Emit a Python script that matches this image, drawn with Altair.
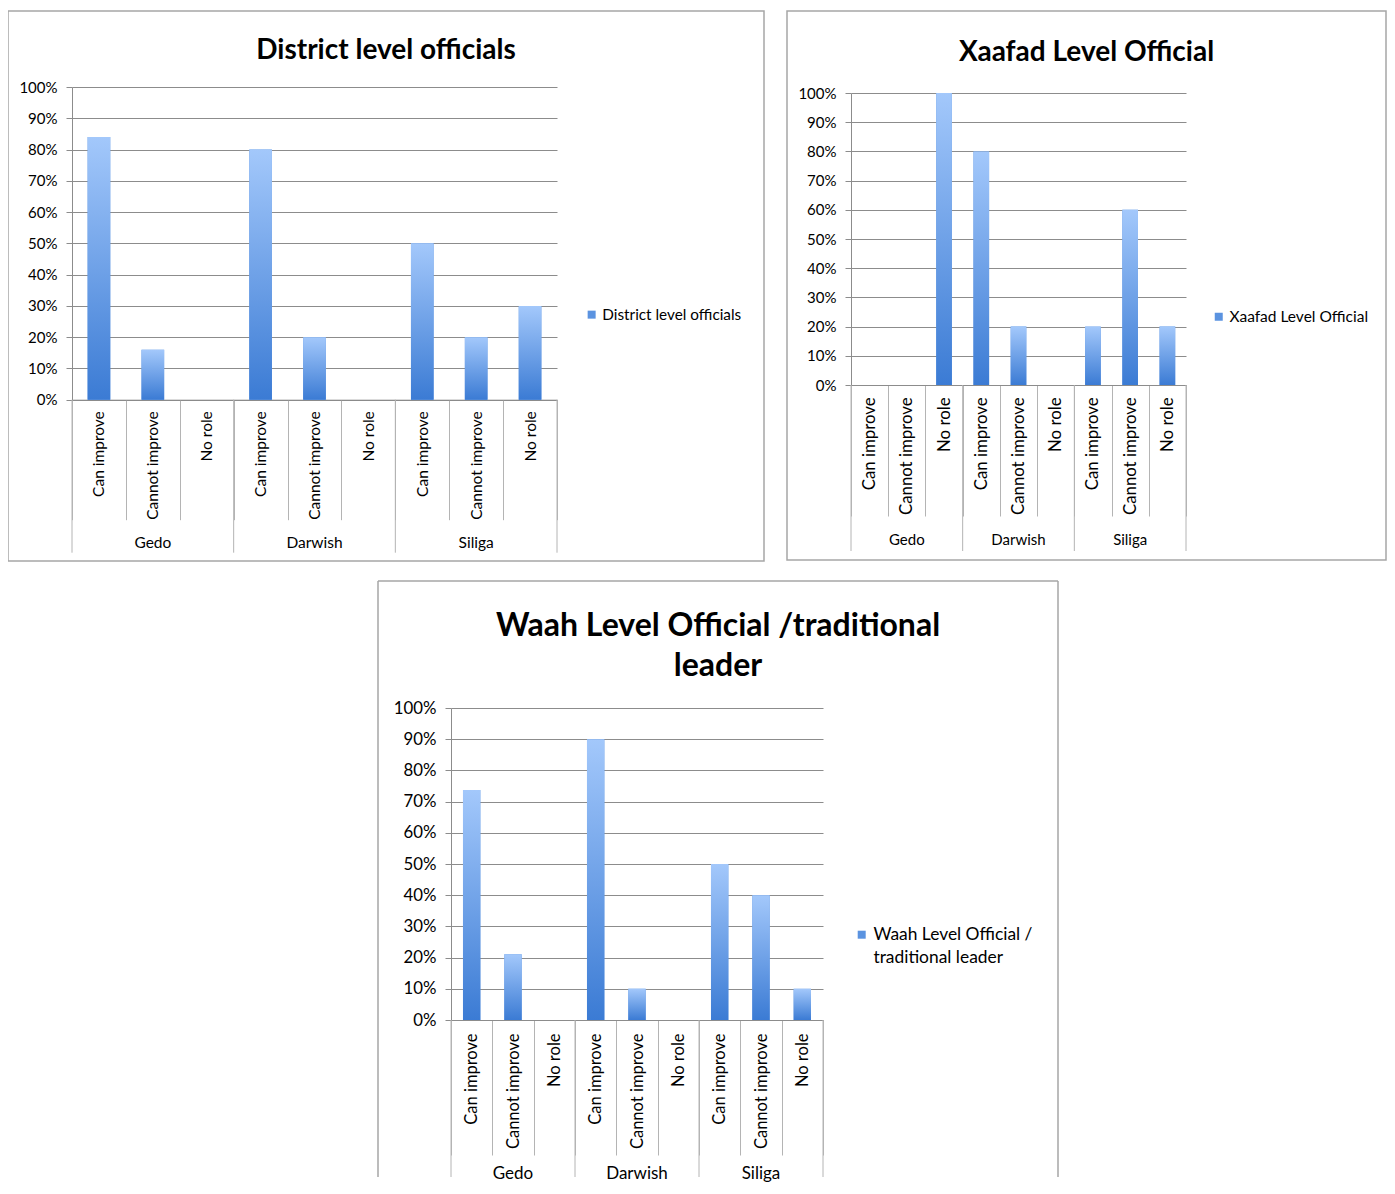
import altair as alt
import pandas as pd

groups = ["Gedo", "Darwish", "Siliga"]
responses = ["Can improve", "Cannot improve", "No role"]

district_values = [0.84, 0.16, 0.0, 0.80, 0.20, 0.0, 0.50, 0.20, 0.30]
xaafad_values = [0.0, 0.0, 1.0, 0.80, 0.20, 0.0, 0.20, 0.60, 0.20]
waah_values = [0.737, 0.211, 0.0, 0.90, 0.10, 0.0, 0.50, 0.40, 0.10]

y_ticks = [0, 0.1, 0.2, 0.3, 0.4, 0.5, 0.6, 0.7, 0.8, 0.9, 1.0]

FONT = "Lato"
GRID = "#8c8c8c"
SEP = "#b4b4b4"
BOX = "#a6a6a6"

gradient = alt.Gradient(
    gradient="linear",
    stops=[alt.GradientStop(color="#a3c8fb", offset=0),
           alt.GradientStop(color="#3b7bd4", offset=1)],
    x1=0, x2=0, y1=0, y2=1,
)


def panel(series, values, title_lines, W, H, x0, x1, y0, y1, tick_len, label_gap,
          grp_len, grp_y, leg_x, leg_y, title_size, title_offset, ylab_size,
          xlab_size, grp_size, leg_size, leg_expr=None, title_line_height=None,
          boxed=True):
    keys = [f"{g}|{r}" for g in groups for r in responses]
    df = pd.DataFrame({
        "key": keys,
        "group": [g for g in groups for r in responses],
        "response": [r for g in groups for r in responses],
        "value": values,
        "series": series,
    })
    xscale = alt.Scale(domain=keys, range=[x0, x1], paddingInner=0, paddingOuter=0)
    yscale = alt.Scale(domain=[0, 1], range=[y0, y1], nice=False, zero=True)

    xaxis = alt.Axis(
        orient="bottom", offset=y0 - H, labelExpr="split(datum.label, '|')[1]",
        labelAngle=-90, labelAlign="right", labelBaseline="middle",
        tickBand="extent", tickSize=tick_len, tickColor=SEP, tickWidth=1,
        domainColor=GRID, domainWidth=1, labelPadding=label_gap - tick_len,
        labelFont=FONT, labelFontSize=xlab_size, labelColor="#000000",
        grid=False, labelLimit=300, title=None)
    yaxis = alt.Axis(
        orient="left", offset=-x0, format="%", values=y_ticks,
        grid=True, gridColor=GRID, gridWidth=1,
        domainColor=GRID, domainWidth=1, tickColor=GRID, tickSize=6,
        labelPadding=9, labelFont=FONT, labelFontSize=ylab_size,
        labelColor="#000000", title=None)

    leg_kwargs = dict(
        title=None, orient="none", legendX=leg_x, legendY=leg_y,
        symbolType="square", symbolSize=64, symbolStrokeWidth=0,
        labelFont=FONT, labelFontSize=leg_size, labelColor="#000000",
        labelLimit=400, labelOffset=3,
    )
    if leg_expr is not None:
        leg_kwargs["labelExpr"] = leg_expr

    base = alt.Chart(df)
    solid = base.mark_bar(width={"band": 0.42}).encode(
        x=alt.X("key:N", scale=xscale, axis=xaxis, sort=keys, title=None),
        y=alt.Y("value:Q", scale=yscale, axis=yaxis, title=None),
        color=alt.Color("series:N", scale=alt.Scale(range=["#5b93e0"]),
                        legend=alt.Legend(**leg_kwargs)),
    )
    bars = base.mark_bar(width={"band": 0.42}, fill=gradient).encode(
        x=alt.X("key:N", scale=xscale, axis=xaxis, sort=keys, title=None),
        y=alt.Y("value:Q", scale=yscale, axis=yaxis, title=None),
    )

    starts = pd.DataFrame({"key": [f"{g}|{responses[0]}" for g in groups]})
    ends = pd.DataFrame({"key": [f"{groups[-1]}|{responses[-1]}"]})
    sep_start = alt.Chart(starts).mark_rule(color=SEP, strokeWidth=1).encode(
        x=alt.X("key:N", scale=xscale, axis=xaxis, bandPosition=0, sort=keys, title=None),
        y=alt.value(y0), y2=alt.value(min(y0 + grp_len, H)),
    )
    sep_end = alt.Chart(ends).mark_rule(color=SEP, strokeWidth=1).encode(
        x=alt.X("key:N", scale=xscale, axis=xaxis, bandPosition=1, sort=keys, title=None),
        y=alt.value(y0), y2=alt.value(min(y0 + grp_len, H)),
    )
    mids = pd.DataFrame({"key": [f"{g}|{responses[1]}" for g in groups],
                         "group": groups})
    grp_text = alt.Chart(mids).mark_text(
        font=FONT, fontSize=grp_size, color="#000000", baseline="middle",
        align="center").encode(
        x=alt.X("key:N", scale=xscale, axis=xaxis, sort=keys, title=None),
        y=alt.value(grp_y),
        text="group:N",
    )

    layers = [solid, bars, sep_start, sep_end, grp_text]
    if not boxed:
        one = pd.DataFrame({"a": [0]})
        layers.append(alt.Chart(one).mark_rule(color=BOX, strokeWidth=1.5).encode(
            x=alt.value(0), y=alt.value(0), y2=alt.value(H)))
        layers.append(alt.Chart(one).mark_rule(color=BOX, strokeWidth=1.5).encode(
            x=alt.value(W), y=alt.value(0), y2=alt.value(H)))
        layers.append(alt.Chart(one).mark_rule(color=BOX, strokeWidth=1.5).encode(
            x=alt.value(0), x2=alt.value(W), y=alt.value(0)))

    title_kwargs = dict(
        text=title_lines, anchor="middle", frame="group", orient="top",
        offset=title_offset, font=FONT, fontSize=title_size, fontWeight="bold",
        color="#000000",
    )
    if title_line_height is not None:
        title_kwargs["lineHeight"] = title_line_height

    view = (alt.ViewBackground(stroke=BOX, strokeWidth=1.5) if boxed
            else alt.ViewBackground(stroke=None))
    return alt.layer(*layers).properties(
        width=W, height=H,
        title=alt.TitleParams(**title_kwargs),
        view=view,
    )


p1 = panel("District level officials", district_values, "District level officials",
           756, 550, 64, 549, 388.7, 76, 120, 11, 153, 532, 576, 296,
           28, -53.5, 15, 15.5, 15.5, 15.3)
p2 = panel("Xaafad Level Official", xaafad_values, "Xaafad Level Official",
           599, 549, 64, 399, 374, 82, 131, 12, 166, 529, 424, 298,
           28, -55.5, 15, 16.8, 15, 15.5)
p3 = panel("Waah Level Official /\ntraditional leader", waah_values,
           ["Waah Level Official /traditional", "leader"],
           680, 596, 73, 445, 439, 127, 135, 13, 200, 593, 475, 345,
           32, -102.5, 16.8, 16.5, 17, 17.4, leg_expr="split(datum.label, '\\n')",
           title_line_height=40, boxed=False)

spacer = alt.Chart(pd.DataFrame({"a": [0]})).mark_text(text="").encode(
    x=alt.value(5), y=alt.value(5)
).properties(width=342, height=10, view=alt.ViewBackground(stroke=None))

top = alt.hconcat(p1, p2, spacing=13).resolve_scale(
    color="independent").resolve_legend(color="independent")
bottom = alt.hconcat(spacer, p3, spacing=20).resolve_scale(
    color="independent").resolve_legend(color="independent")

chart = alt.vconcat(top, bottom, spacing=18).resolve_scale(
    color="independent").resolve_legend(color="independent").properties(
    padding={"left": -8, "top": 2, "right": 0, "bottom": 0}
).configure_view(stroke=None).configure(
    font=FONT, style={"guide-label": alt.MarkConfig(lineHeight=23)})

chart.save("out.html", embed_options={"renderer": "svg", "actions": False})
